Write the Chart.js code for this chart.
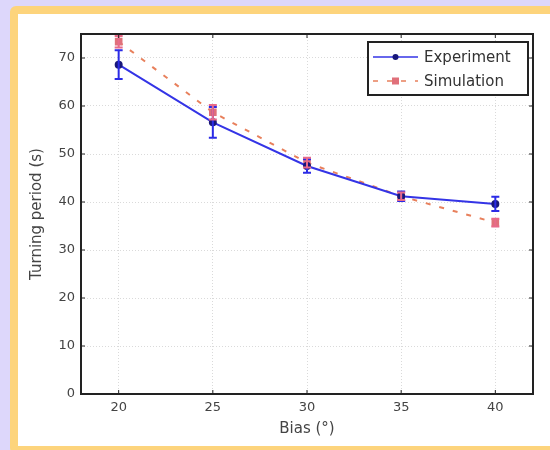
<!DOCTYPE html>
<html>
<head>
<meta charset="utf-8">
<script src="https://cdn.jsdelivr.net/npm/chart.js@4.4.1/dist/chart.umd.min.js"></script>
<style>
    html, body {
        margin: 0;
        padding: 0;
        width: 550px;
        height: 450px;
        overflow: hidden;
        background: #ddd7fb;
    }
    #panel {
        position: absolute;
        left: 10px;
        top: 6px;
        width: 560px;
        height: 432px;
        border: 8px solid #fdd47c;
        border-radius: 6px;
        background: #ffffff;
    }
    #wrap {
        position: absolute;
        left: 0;
        top: 0;
        width: 550px;
        height: 450px;
    }
</style>
</head>
<body>
<div id="panel"></div>
<div id="wrap"><canvas id="turnChart" width="550" height="450"></canvas></div>
<script>
const bias = [20, 25, 30, 35, 40];
const experiment = [68.6, 56.6, 47.5, 41.2, 39.6];
const experimentErr = [3.0, 3.2, 1.4, 1.0, 1.5];
const simulation = [73.4, 58.7, 48.2, 41.2, 35.7];
const simulationErr = [1.2, 1.5, 1.0, 0.8, 0.8];
const xTicks = [20, 25, 30, 35, 40];
const yTicks = [0, 10, 20, 30, 40, 50, 60, 70];

const textColor = '#444444';
const font = 'DejaVu Sans, sans-serif';

// error bars drawn through the chart scales
const errorBars = {
    id: 'errorBars',
    afterDatasetsDraw(chart) {
        const { ctx, scales: { x, y } } = chart;
        chart.data.datasets.forEach((ds) => {
            if (!ds.errors) return;
            ctx.save();
            ctx.strokeStyle = ds.errorColor;
            ctx.lineWidth = 2;
            ds.data.forEach((pt, i) => {
                const px = x.getPixelForValue(pt.x);
                const top = y.getPixelForValue(pt.y + ds.errors[i]);
                const bot = y.getPixelForValue(pt.y - ds.errors[i]);
                ctx.beginPath();
                ctx.moveTo(px, top);
                ctx.lineTo(px, bot);
                ctx.moveTo(px - 4, top);
                ctx.lineTo(px + 4, top);
                ctx.moveTo(px - 4, bot);
                ctx.lineTo(px + 4, bot);
                ctx.stroke();
            });
            ctx.restore();
        });
    }
};

// matlab style box with inward ticks, plus the legend
const frameBox = {
    id: 'frameBox',
    afterDraw(chart) {
        const { ctx, chartArea: a, scales: { x, y } } = chart;
        ctx.save();
        ctx.strokeStyle = '#222';
        ctx.lineWidth = 2;
        ctx.strokeRect(a.left, a.top, a.right - a.left, a.bottom - a.top);
        ctx.lineWidth = 1;
        ctx.beginPath();
        x.ticks.forEach((t) => {
            const px = x.getPixelForValue(t.value);
            ctx.moveTo(px, a.bottom); ctx.lineTo(px, a.bottom - 4);
            ctx.moveTo(px, a.top); ctx.lineTo(px, a.top + 4);
        });
        y.ticks.forEach((t) => {
            const py = y.getPixelForValue(t.value);
            ctx.moveTo(a.left, py); ctx.lineTo(a.left + 4, py);
            ctx.moveTo(a.right, py); ctx.lineTo(a.right - 4, py);
        });
        ctx.stroke();

        const bx = a.right - 165, by = a.top + 8, bw = 160, bh = 53;
        ctx.fillStyle = '#fff';
        ctx.fillRect(bx, by, bw, bh);
        ctx.strokeStyle = '#222';
        ctx.lineWidth = 2;
        ctx.strokeRect(bx, by, bw, bh);
        chart.data.datasets.forEach((ds, i) => {
            const ly = by + 15 + i * 24;
            ctx.strokeStyle = ds.borderColor;
            ctx.lineWidth = 1.5;
            ctx.setLineDash(ds.borderDash || []);
            ctx.beginPath();
            ctx.moveTo(bx + 5, ly);
            ctx.lineTo(bx + 50, ly);
            ctx.stroke();
            ctx.setLineDash([]);
            ctx.fillStyle = ds.pointBackgroundColor;
            if (ds.pointStyle === 'rect') {
                ctx.fillRect(bx + 24, ly - 3.5, 7, 7);
            } else {
                ctx.beginPath();
                ctx.arc(bx + 27.5, ly, 3, 0, Math.PI * 2);
                ctx.fill();
            }
            ctx.fillStyle = '#333';
            ctx.font = '15px ' + font;
            ctx.textBaseline = 'middle';
            ctx.fillText(ds.label, bx + 56, ly + 1);
        });
        ctx.restore();
    }
};

const toPoints = (vals) => vals.map((v, i) => ({ x: bias[i], y: v }));

new Chart(document.getElementById('turnChart'), {
    type: 'line',
    data: {
        datasets: [
            {
                label: 'Experiment',
                data: toPoints(experiment),
                errors: experimentErr,
                errorColor: '#2b2be6',
                borderColor: '#3434e6',
                borderWidth: 2,
                pointStyle: 'circle',
                pointRadius: 3,
                pointBackgroundColor: '#18187a',
                pointBorderColor: '#18187a',
                tension: 0
            },
            {
                label: 'Simulation',
                data: toPoints(simulation),
                errors: simulationErr,
                errorColor: '#e86a8a',
                borderColor: '#e8805c',
                borderDash: [5, 9],
                borderWidth: 2,
                pointStyle: 'rect',
                pointRadius: 4,
                pointBackgroundColor: '#e0707a',
                pointBorderColor: '#e0707a',
                tension: 0
            }
        ]
    },
    options: {
        responsive: false,
        animation: false,
        layout: {
            padding: { left: 20, top: 34, right: 17, bottom: 0 }
        },
        plugins: {
            legend: { display: false },
            tooltip: { enabled: false }
        },
        scales: {
            x: {
                type: 'linear',
                min: 18,
                max: 42,
                afterBuildTicks: (s) => { s.ticks = xTicks.map((v) => ({ value: v })); },
                afterFit: (s) => { s.height = 56; },
                grid: { color: '#dadada', drawTicks: false },
                border: { display: false, dash: [1, 2] },
                ticks: { color: textColor, font: { family: font, size: 13 }, padding: 6 },
                title: {
                    display: true,
                    text: 'Bias (°)',
                    color: textColor,
                    font: { family: font, size: 15 },
                    padding: { top: 0, bottom: 12 }
                }
            },
            y: {
                min: 0,
                max: 75,
                afterBuildTicks: (s) => { s.ticks = yTicks.map((v) => ({ value: v })); },
                afterFit: (s) => { s.width = 61; },
                grid: { color: '#dadada', drawTicks: false },
                border: { display: false, dash: [1, 2] },
                ticks: { color: textColor, font: { family: font, size: 13 }, padding: 6 },
                title: {
                    display: true,
                    text: 'Turning period (s)',
                    color: textColor,
                    font: { family: font, size: 15 },
                    padding: { top: 8, bottom: 0 }
                }
            }
        }
    },
    plugins: [errorBars, frameBox]
});
</script>
</body>
</html>
